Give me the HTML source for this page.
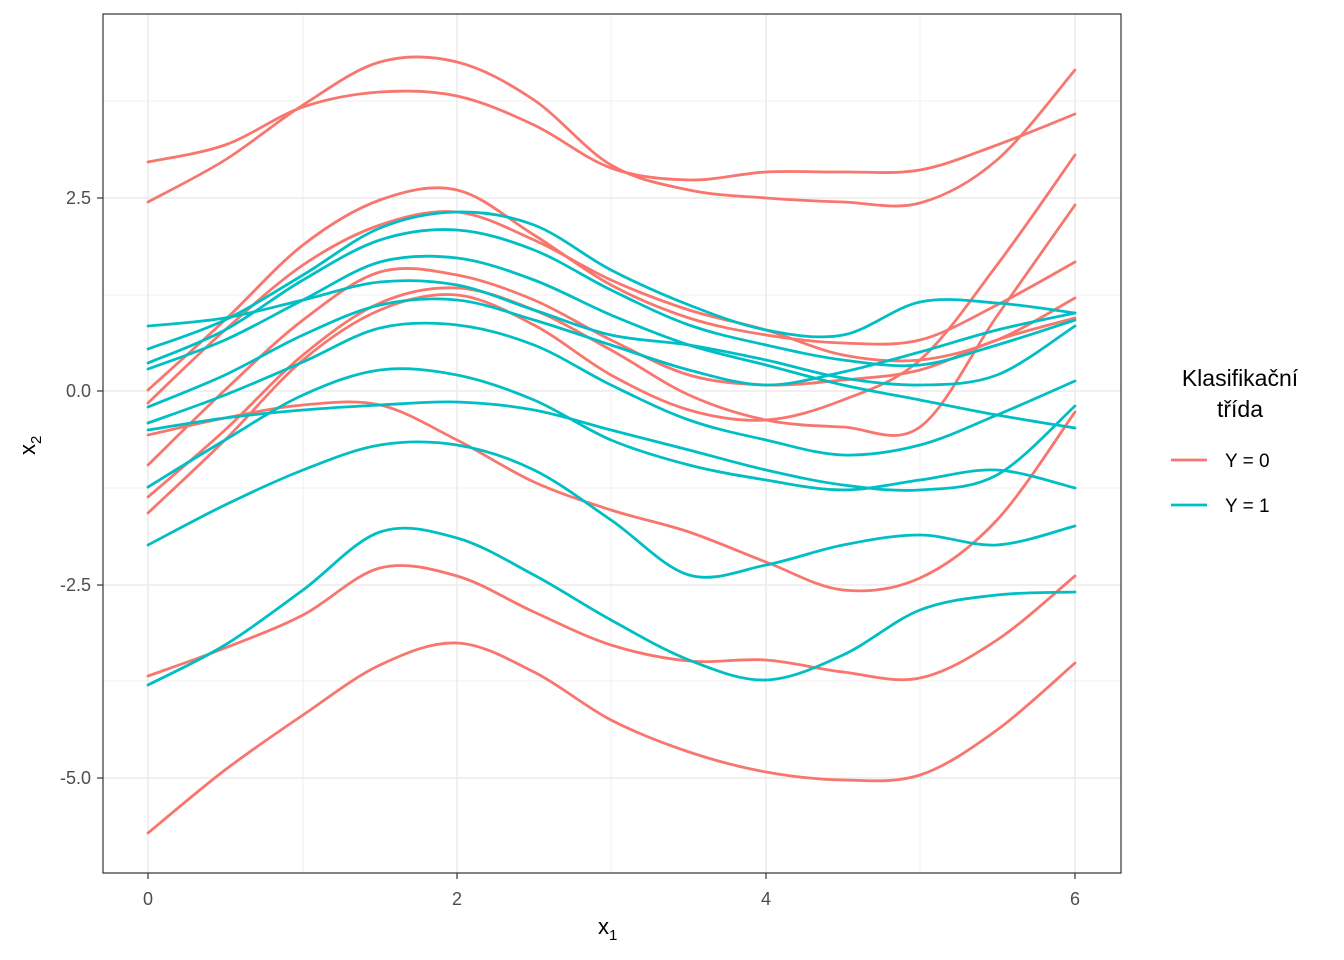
<!DOCTYPE html>
<html><head><meta charset="utf-8"><style>
body{margin:0;background:#fff;}
svg{display:block;font-family:"Liberation Sans",sans-serif;}
</style></head><body>
<svg id="s" width="1344" height="960" xmlns="http://www.w3.org/2000/svg">
<rect width="1344" height="960" fill="#fff"/>
<g stroke="#ebebeb" stroke-width="0.8">
<line x1="303" x2="303" y1="14" y2="873"/><line x1="611" x2="611" y1="14" y2="873"/><line x1="920" x2="920" y1="14" y2="873"/>
<line x1="103" x2="1121" y1="101" y2="101"/><line x1="103" x2="1121" y1="295" y2="295"/><line x1="103" x2="1121" y1="488" y2="488"/><line x1="103" x2="1121" y1="681" y2="681"/>
</g>
<g stroke="#ebebeb" stroke-width="1.5">
<line x1="148" x2="148" y1="14" y2="873"/><line x1="457" x2="457" y1="14" y2="873"/><line x1="766" x2="766" y1="14" y2="873"/><line x1="1075" x2="1075" y1="14" y2="873"/>
<line x1="103" x2="1121" y1="198" y2="198"/><line x1="103" x2="1121" y1="391" y2="391"/><line x1="103" x2="1121" y1="585" y2="585"/><line x1="103" x2="1121" y1="778" y2="778"/>
</g>
<g id="lines" fill="none" stroke-width="2.8" stroke-linecap="round"></g>
<rect x="103" y="14" width="1018" height="859" fill="none" stroke="#333" stroke-width="1.2"/>
<g stroke="#333" stroke-width="1.2">
<line x1="148" x2="148" y1="873" y2="879"/><line x1="457" x2="457" y1="873" y2="879"/><line x1="766" x2="766" y1="873" y2="879"/><line x1="1075" x2="1075" y1="873" y2="879"/>
<line x1="97" x2="103" y1="198" y2="198"/><line x1="97" x2="103" y1="391" y2="391"/><line x1="97" x2="103" y1="585" y2="585"/><line x1="97" x2="103" y1="778" y2="778"/>
</g>
<g fill="#4d4d4d" font-size="18" text-anchor="middle">
<text x="148" y="905">0</text><text x="457" y="905">2</text><text x="766" y="905">4</text><text x="1075" y="905">6</text>
</g>
<g fill="#4d4d4d" font-size="18" text-anchor="end">
<text x="91" y="204">2.5</text><text x="91" y="397">0.0</text><text x="91" y="591">-2.5</text><text x="91" y="784">-5.0</text>
</g>
<text x="598" y="934" font-size="22" fill="#000">x<tspan font-size="15" dy="6">1</tspan></text>
<text transform="translate(35,455) rotate(-90)" font-size="22" fill="#000">x<tspan font-size="15" dy="6">2</tspan></text>
<text x="1240" y="386" font-size="23" text-anchor="middle">Klasifikační</text>
<text x="1240" y="417" font-size="23" text-anchor="middle">třída</text>
<line x1="1171" x2="1207" y1="460" y2="460" stroke="#F8766D" stroke-width="2.8"/>
<line x1="1171" x2="1207" y1="505" y2="505" stroke="#00BFC4" stroke-width="2.8"/>
<text x="1225" y="467" font-size="19">Y = 0</text>
<text x="1225" y="512" font-size="19">Y = 1</text>
</svg>
<script>
var X=[148,225,303,380,457,534,611,689,766,843,920,997,1075];
var R=[
[162,145,107,92,96,125,168,180,172,172,170,145,114],
[202,160,105,62,62,100,165,190,198,202,203,160,70],
[390,320,245,200,190,235,285,318,335,343,340,305,262],
[403,330,265,225,212,240,280,310,330,355,360,340,298],
[465,390,320,272,275,300,340,375,385,380,370,340,318],
[497,430,355,303,288,310,350,395,420,427,427,316,205],
[513,440,360,310,295,325,375,410,420,400,360,265,155],
[435,418,405,405,440,482,510,532,562,590,578,520,412],
[676,648,615,568,576,612,645,661,660,672,678,640,576],
[833,770,715,665,643,672,720,752,772,780,775,730,663]];
var C=[
[326,318,300,282,285,310,335,345,360,378,385,375,326],
[349,320,275,228,212,225,270,305,330,335,302,303,313],
[363,330,280,240,230,250,290,325,345,360,365,345,320],
[369,340,300,262,258,280,315,345,365,385,400,415,428],
[407,375,335,305,300,320,345,370,385,372,352,330,313],
[423,395,362,328,325,345,385,420,440,455,445,415,381],
[487,440,395,370,375,400,440,465,480,490,480,470,488],
[430,418,410,405,402,410,430,450,470,485,490,475,406],
[545,505,470,445,445,470,520,575,565,545,535,545,526],
[685,645,590,532,538,575,620,660,680,655,610,595,592]];
function path(ys){var p=X.map(function(x,i){return [x,ys[i]];});var d="M"+p[0][0]+","+p[0][1];
for(var i=0;i<p.length-1;i++){var p0=p[i-1]||p[i],p1=p[i],p2=p[i+1],p3=p[i+2]||p2;
d+=" C"+(p1[0]+(p2[0]-p0[0])/6)+","+(p1[1]+(p2[1]-p0[1])/6)+" "+(p2[0]-(p3[0]-p1[0])/6)+","+(p2[1]-(p3[1]-p1[1])/6)+" "+p2[0]+","+p2[1];}return d;}
var g=document.getElementById("lines"),ns="http://www.w3.org/2000/svg";
function add(arr,col){arr.forEach(function(ys){var e=document.createElementNS(ns,"path");e.setAttribute("d",path(ys));e.setAttribute("stroke",col);g.appendChild(e);});}
add(R,"#F8766D");add(C,"#00BFC4");
</script>
</body></html>
